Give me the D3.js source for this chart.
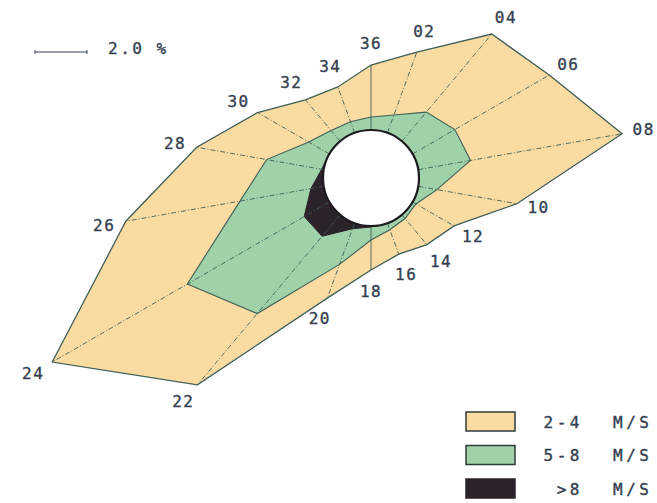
<!DOCTYPE html>
<html>
<head>
<meta charset="utf-8">
<script src="https://cdn.jsdelivr.net/npm/d3@7"></script>
<style>
  html, body { margin: 0; padding: 0; background: #fff; }
  svg { display: block; }
  text { font-family: "DejaVu Sans Mono", "Liberation Mono", monospace; fill: #34404f; stroke: #34404f; stroke-width: 0.35px; }
</style>
</head>
<body>
<svg id="rose" width="657" height="503"></svg>
<script>
// Wind directions (tens of degrees, clockwise from north)
const directions = ["02","04","06","08","10","12","14","16","18","20","22","24","26","28","30","32","34","36"];

// Frequency (%) per direction for each speed class
const freqOver8 = [0, 0, 0, 0, 0, 0, 0, 0, 0.04, 0.23, 1.08, 1.12, 0.50, 0.08, 0, 0, 0, 0];
const freq5to8  = [0.73, 1.46, 1.88, 2.04, 0.73, 0.15, 0.19, 0.27, 0.50, 1.46, 3.88, 5.19, 2.77, 2.15, 0.92, 0.54, 0.46, 0.50];
const freq2to4  = [2.58, 3.92, 4.19, 5.92, 3.12, 1.69, 1.31, 1.00, 1.15, 1.38, 3.58, 6.00, 4.46, 2.73, 2.27, 1.54, 1.42, 2.00];

// Legend entries and the scale-bar value
const legendLabels = ["2-4", "5-8", ">8"];
const legendUnits = "M/S";
const scaleBarValue = 2.0;

const svg = d3.select("#rose");
const cx = 371, cy = 178;
const innerRadius = 48;       // radius of the central circle
const pxPerPercent = 26;

const rScale = d3.scaleLinear().domain([0, 1]).range([innerRadius, innerRadius + pxPerPercent]);
const lenScale = d3.scaleLinear().domain([0, 1]).range([0, pxPerPercent]);
const angle = d => (+d % 36) * 10 * Math.PI / 180;

// cumulative frequencies from the strongest class outward
const rows = directions.map((d, i) => {
  const c1 = freqOver8[i];
  const c2 = c1 + freq5to8[i];
  const c3 = c2 + freq2to4[i];
  return { dir: d, a: angle(d), c1, c2, c3 };
});

const colors = { low: "#fadca3", mid: "#a0d2aa", high: "#2b2329" };
const edge = "#3f5e58";

const g = svg.append("g").attr("transform", `translate(${cx},${cy})`);

const ring = key => d3.lineRadial()
  .angle(d => d.a)
  .radius(d => rScale(d[key]))
  .curve(d3.curveLinearClosed);

g.append("path").datum(rows).attr("d", ring("c3"))
  .attr("fill", colors.low).attr("stroke", edge).attr("stroke-width", 1.3);
g.append("path").datum(rows).attr("d", ring("c2"))
  .attr("fill", colors.mid).attr("stroke", edge).attr("stroke-width", 1.1);
g.append("path").datum(rows).attr("d", ring("c1"))
  .attr("fill", colors.high).attr("stroke", colors.high).attr("stroke-width", 1);

// spokes from the circle to the outer edge
const spoke = d3.lineRadial().angle(p => p[0]).radius(p => p[1]);
g.selectAll("path.spoke").data(rows).join("path")
  .attr("class", "spoke")
  .attr("d", d => spoke([[d.a, innerRadius], [d.a, rScale(d.c3)]]))
  .attr("fill", "none")
  .attr("stroke", edge)
  .attr("stroke-width", 0.9)
  .attr("stroke-dasharray", d => (d.dir === "36" || d.dir === "18") ? null : "5,2,1,2");

// central circle
g.append("circle").attr("r", innerRadius)
  .attr("fill", "#fff").attr("stroke", "#1c1a1e").attr("stroke-width", 2.2);

// direction labels
g.selectAll("text.dir").data(rows).join("text")
  .attr("class", "dir")
  .attr("x", d => d3.pointRadial(d.a, rScale(d.c3) + 22)[0])
  .attr("y", d => d3.pointRadial(d.a, rScale(d.c3) + 22)[1])
  .attr("text-anchor", "middle")
  .attr("dominant-baseline", "central")
  .attr("font-size", 16)
  .attr("letter-spacing", 1.5)
  .text(d => d.dir);

// scale bar
const barX = 35, barY = 52;
const barLen = lenScale(scaleBarValue);
const bar = svg.append("g").attr("stroke", "#3a4452").attr("stroke-width", 1);
bar.append("line").attr("x1", barX).attr("x2", barX + barLen).attr("y1", barY).attr("y2", barY);
bar.append("line").attr("x1", barX).attr("x2", barX).attr("y1", barY - 2).attr("y2", barY + 2);
bar.append("line").attr("x1", barX + barLen).attr("x2", barX + barLen).attr("y1", barY - 2).attr("y2", barY + 2);
svg.append("text").attr("x", 108).attr("y", barY - 4)
  .attr("dominant-baseline", "central")
  .attr("font-size", 16).attr("letter-spacing", 2.5)
  .text(d3.format(".1f")(scaleBarValue) + " %");

// legend
const legend = svg.append("g").attr("transform", "translate(466,412)");
const legendFills = [colors.low, colors.mid, colors.high];
legendLabels.forEach((lab, i) => {
  const y = i * 33.5;
  legend.append("rect").attr("x", 0).attr("y", y).attr("width", 49).attr("height", 19)
    .attr("fill", legendFills[i]).attr("stroke", i < 2 ? "#2e3a3a" : colors.high).attr("stroke-width", 1.5);
  legend.append("text").attr("x", 117).attr("y", y + 10)
    .attr("text-anchor", "end").attr("dominant-baseline", "central")
    .attr("font-size", 16).attr("letter-spacing", 3.5).text(lab);
  legend.append("text").attr("x", 147).attr("y", y + 10)
    .attr("dominant-baseline", "central")
    .attr("font-size", 16).attr("letter-spacing", 3.5).text(legendUnits);
});
</script>
</body>
</html>
